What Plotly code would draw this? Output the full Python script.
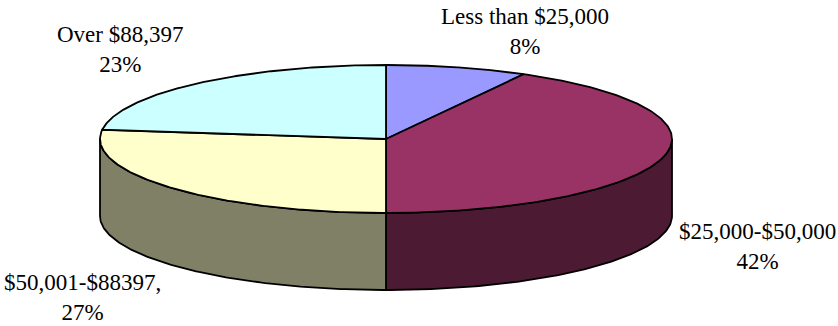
import numpy as np
import plotly.graph_objects as go

# ---- data ----
labels = ["Less than $25,000", "$25,000-$50,000", "$50,001-$88397,", "Over $88,397"]
percents = [8, 42, 27, 23]
top_colors = ["#9999FF", "#993366", "#FFFFCC", "#CCFFFF"]
side_colors = ["#4D4D80", "#4D1A33", "#808066", "#668080"]

# ---- geometry (pixel space) ----
CX, CY = 386, 139
RX, RY = 286, 74
DEPTH = 77

def pt(theta_deg, dy=0.0):
    t = np.radians(theta_deg)
    return CX + RX * np.sin(t), CY - RY * np.cos(t) + dy

fig = go.Figure()

total = float(sum(percents))
bounds = np.concatenate([[0.0], np.cumsum(percents) / total * 360.0])

# side walls (front half only: 90..270 deg)
for i in range(len(percents)):
    a, b = max(bounds[i], 90.0), min(bounds[i + 1], 270.0)
    if b <= a:
        continue
    th = np.linspace(a, b, 120)
    xt, yt = pt(th)
    xb, yb = pt(th[::-1], DEPTH)
    xs = np.concatenate([xt, xb, xt[:1]])
    ys = np.concatenate([yt, yb, yt[:1]])
    fig.add_trace(go.Scatter(x=xs, y=ys, mode="lines", fill="toself",
                             fillcolor=side_colors[i],
                             line=dict(color="black", width=1.8),
                             hoverinfo="skip", showlegend=False))

# top faces
for i in range(len(percents)):
    th = np.linspace(bounds[i], bounds[i + 1], 200)
    xa, ya = pt(th)
    xs = np.concatenate([[CX], xa, [CX]])
    ys = np.concatenate([[CY], ya, [CY]])
    fig.add_trace(go.Scatter(x=xs, y=ys, mode="lines", fill="toself",
                             fillcolor=top_colors[i],
                             line=dict(color="black", width=1.8),
                             hoverinfo="skip", showlegend=False))

# labels
label_pos = [(525, 31), (757, 246), (82, 297), (120, 49)]
for lab, p, (lx, ly) in zip(labels, percents, label_pos):
    fig.add_annotation(x=lx, y=ly, text=f"{lab}<br>{p}%", showarrow=False,
                       xanchor="center", yanchor="middle", align="center",
                       font=dict(family="Liberation Serif", size=23, color="black"))

fig.update_xaxes(range=[0, 838], visible=False, fixedrange=True)
fig.update_yaxes(range=[326, 0], visible=False, fixedrange=True)
fig.update_layout(width=838, height=326, margin=dict(l=0, r=0, t=0, b=0),
                  plot_bgcolor="white", paper_bgcolor="white")

fig.write_html("out.html")
